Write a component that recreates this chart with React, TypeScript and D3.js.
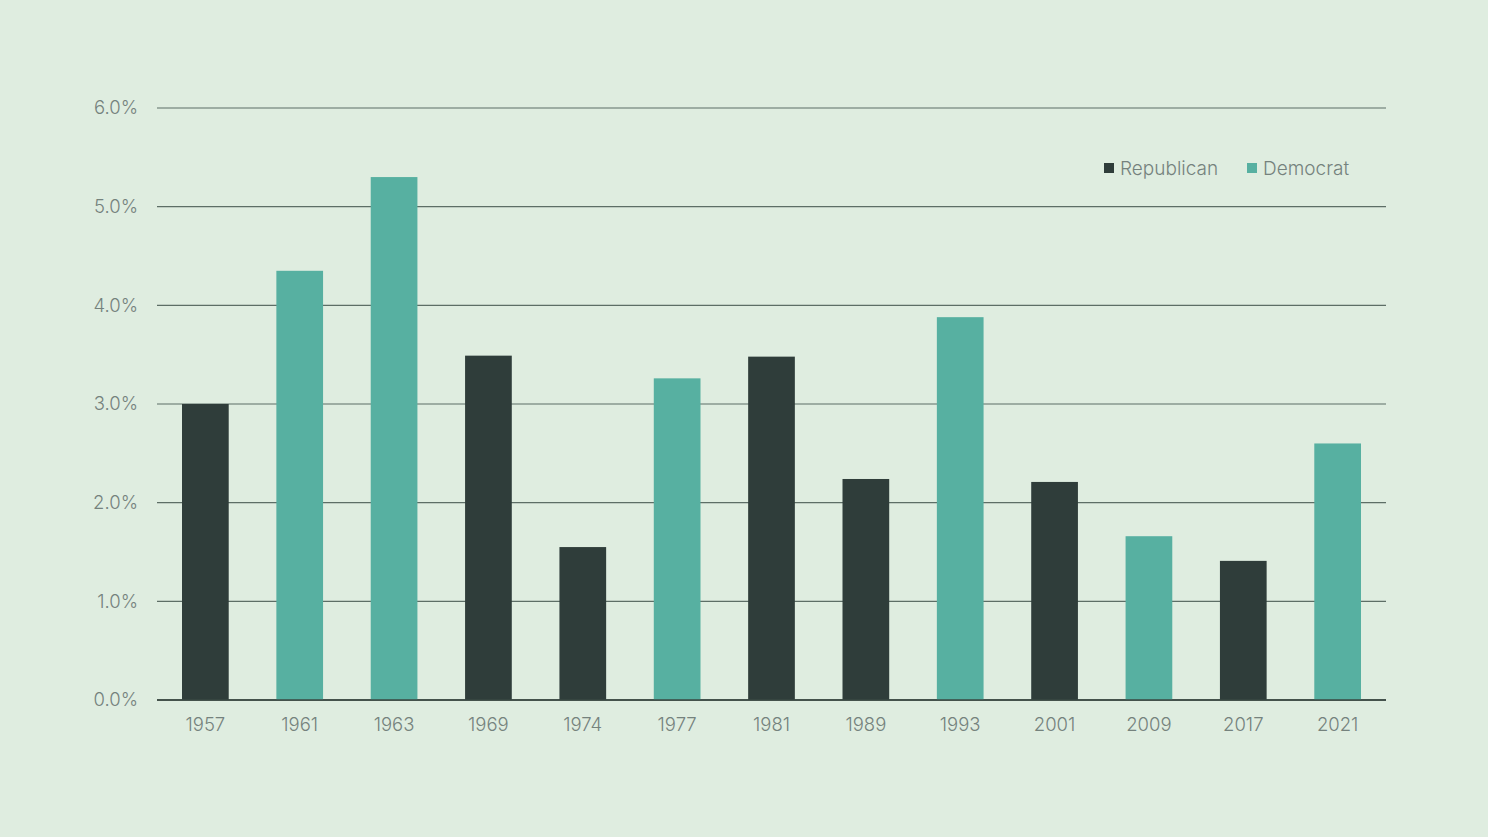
import { useMemo } from "react";
import * as d3 from "d3";

const W = 1488;
const H = 837;
const MARGIN = { top: 108, right: 102, bottom: 137, left: 157 };

const years = ["1957", "1961", "1963", "1969", "1974", "1977", "1981", "1989", "1993", "2001", "2009", "2017", "2021"];
const values = [3.0, 4.35, 5.3, 3.49, 1.55, 3.26, 3.48, 2.24, 3.88, 2.21, 1.66, 1.41, 2.6];
const parties = ["R", "D", "D", "R", "R", "D", "R", "R", "D", "R", "D", "R", "D"];
const yTicks = [0, 1, 2, 3, 4, 5, 6];

const BG = "#dfede0";
const REP = "#2f3d3a";
const DEM = "#57b0a1";
const GRID = "#5d6e66";
const TEXT = "#75827d";
const FONT = "Inter, 'Noto Sans', sans-serif";

export default function App() {
  const innerW = W - MARGIN.left - MARGIN.right;
  const innerH = H - MARGIN.top - MARGIN.bottom;

  const { x, y } = useMemo(() => {
    const x = d3.scaleBand<string>().domain(years).range([0, innerW]).paddingInner(0.505).paddingOuter(0.265);
    const y = d3.scaleLinear().domain([0, 6]).range([innerH, 0]);
    return { x, y };
  }, [innerW, innerH]);

  const color = (p: string) => (p === "R" ? REP : DEM);

  return (
    <div style={{ position: "fixed", left: 0, top: 0, width: W, height: H, background: BG }}>
      <svg width={W} height={H} viewBox={`0 0 ${W} ${H}`} style={{ display: "block", fontFamily: FONT, fontWeight: 300 }}>
        <rect width={W} height={H} fill={BG} />
        <g transform={`translate(${MARGIN.left},${MARGIN.top})`}>
          {/* gridlines + y labels */}
          {yTicks.map((t) => (
            <g key={`ty-${t}`} transform={`translate(0,${y(t)})`}>
              <line x1={0} x2={innerW} stroke={t === 0 ? "#3a4843" : GRID} strokeWidth={t === 0 ? 1.6 : 1.2} />
              <text x={-19} y={0} dy="0.35em" fontSize={18.5} textAnchor="end" fill={TEXT}>
                {t.toFixed(1)}%
              </text>
            </g>
          ))}
          {/* bars */}
          {years.map((yr, i) => (
            <rect
              key={yr}
              x={x(yr)}
              y={y(values[i])}
              width={x.bandwidth()}
              height={y(0) - y(values[i])}
              fill={color(parties[i])}
            />
          ))}
          {/* axis line on top of bars */}
          <line x1={0} x2={innerW} y1={y(0)} y2={y(0)} stroke="#3a4843" strokeWidth={1.6} />
          {/* x labels */}
          {years.map((yr) => (
            <text
              key={`tx-${yr}`}
              x={(x(yr) ?? 0) + x.bandwidth() / 2}
              y={innerH + 25}
              dy="0.35em"
              fontSize={18.5}
              textAnchor="middle"
              fill={TEXT}
            >
              {yr}
            </text>
          ))}
        </g>
        {/* legend */}
        <g transform="translate(1104,168)" fontSize={19} fill={TEXT}>
          <rect x={0} y={-5} width={10} height={10} fill={REP} />
          <text x={16} dy="0.35em">Republican</text>
          <rect x={143} y={-5} width={10} height={10} fill={DEM} />
          <text x={159} dy="0.35em">Democrat</text>
        </g>
      </svg>
    </div>
  );
}
